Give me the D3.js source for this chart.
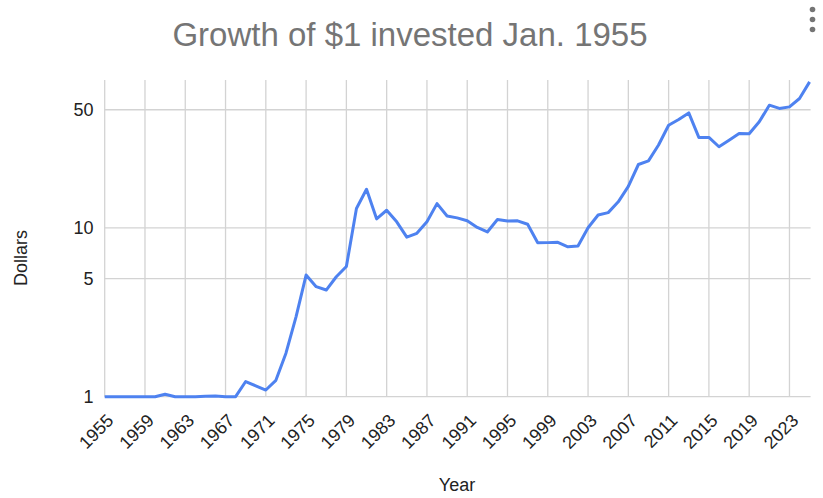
<!DOCTYPE html>
<html><head><meta charset="utf-8">
<script src="https://cdn.jsdelivr.net/npm/d3@7"></script>
<style>body{margin:0;background:#fff}svg{display:block;font-family:"Liberation Sans",Arial,sans-serif}</style>
</head><body>
<svg id="c" width="823" height="498"></svg>
<script>
const years = d3.range(1955, 2026);
const values = [1.0,1.0,1.0,1.0,1.0,1.0,1.035,1.0,1.0,1.0,1.005,1.01,1.0,1.0,1.23,1.16,1.095,1.25,1.81,2.97,5.25,4.48,4.28,5.13,5.9,
13.0,16.9,11.3,12.7,10.85,8.8,9.27,10.85,13.9,11.75,11.45,11.0,10.05,9.45,11.2,10.96,11.0,10.5,8.15,8.17,8.2,7.72,7.8,
10.0,11.9,12.3,14.25,17.6,23.7,24.9,30.9,40.5,43.8,47.9,34.3,34.3,30.2,33.0,36.2,36.0,42.4,53.2,50.9,52.0,58.3,73.1];
const yTicks = [1, 5, 10, 50];
const xTicks = d3.range(1955, 2024, 4);
const title = "Growth of $1 invested Jan. 1955";

const svg = d3.select("#c");
const L = 104.7, R = 809.6, T = 80, B = 396.7;
const x = d3.scaleLinear().domain([1955, 2025]).range([L, R]);
const y = d3.scaleLog().domain([1, 75]).range([B, T]);

// gridlines
svg.append("g").selectAll("line").data(xTicks).join("line")
  .attr("x1", d => x(d)).attr("x2", d => x(d)).attr("y1", T).attr("y2", B)
  .attr("stroke", "#d3d3d3").attr("stroke-width", 1.3);
svg.append("g").selectAll("line").data(yTicks).join("line")
  .attr("x1", L).attr("x2", R + 1).attr("y1", d => y(d)).attr("y2", d => y(d))
  .attr("stroke", "#d3d3d3").attr("stroke-width", 1.3);

// y labels
svg.append("g").selectAll("text").data(yTicks).join("text")
  .attr("x", 93.5).attr("y", d => y(d)).attr("dy", "0.36em")
  .attr("text-anchor", "end").attr("font-size", 18).attr("fill", "#222")
  .text(d => d);

// x labels
svg.append("g").selectAll("text").data(xTicks).join("text")
  .attr("transform", d => `translate(${x(d) + 10},${B + 25}) rotate(-45)`)
  .attr("text-anchor", "end").attr("font-size", 18).attr("fill", "#222")
  .text(d => d);

// line
svg.append("path").datum(years.map((yr, i) => [yr, values[i]]))
  .attr("fill", "none").attr("stroke", "#4e82f0").attr("stroke-width", 3)
  .attr("stroke-linejoin", "round")
  .attr("d", d3.line().x(d => x(d[0])).y(d => y(d[1])));

// title
svg.append("text").attr("x", 410).attr("y", 46).attr("text-anchor", "middle")
  .attr("font-size", 33).attr("fill", "#757575").text(title);

// axis titles
svg.append("text").attr("x", 457).attr("y", 491).attr("text-anchor", "middle")
  .attr("font-size", 18).attr("fill", "#222").text("Year");
svg.append("text").attr("transform", `translate(27,258) rotate(-90)`).attr("text-anchor", "middle")
  .attr("font-size", 18).attr("fill", "#222").text("Dollars");

// menu dots
svg.append("g").selectAll("circle").data([0, 1, 2]).join("circle")
  .attr("cx", 812.5).attr("cy", d => 9.5 + d * 10).attr("r", 2.8).attr("fill", "#757575");
</script>
</body></html>
